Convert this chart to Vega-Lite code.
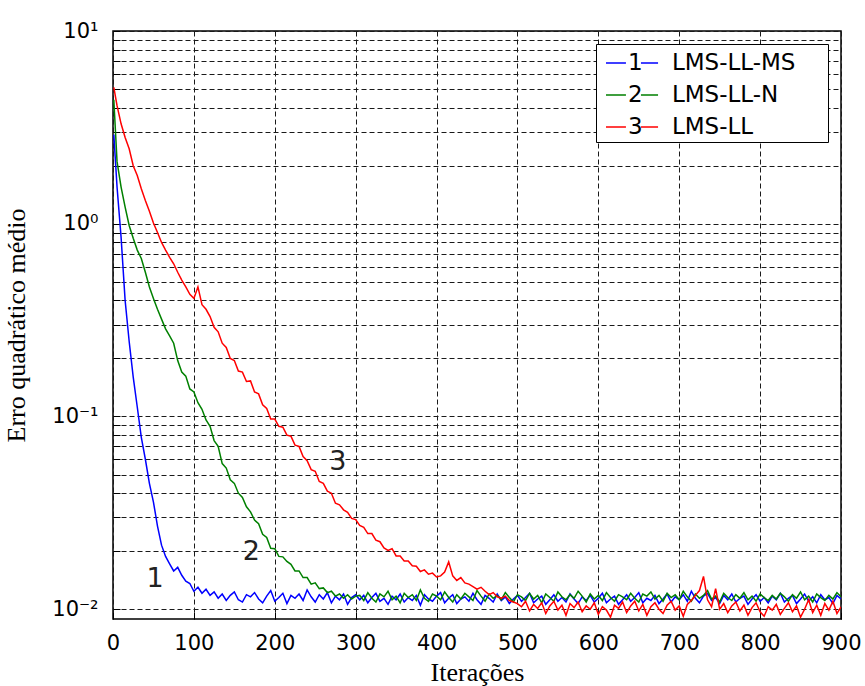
{
"$schema":"https://vega.github.io/schema/vega-lite/v6.json",
"width":728,"height":588,
"autosize":{"type":"none"},
"padding":{"left":113,"top":31,"right":24,"bottom":67},
"background":"white",
"config":{
 "view":{"stroke":"black","strokeWidth":1.5},
 "axis":{"grid":true,"gridColor":"#1a1a1a","gridDash":[5,3],"gridWidth":1,"domain":false,"tickColor":"black","tickSize":-7,"tickWidth":1,"labelFont":"DejaVu Sans","labelFontSize":21,"labelColor":"black","titleFont":"Liberation Serif","titleFontSize":26,"titleFontWeight":"normal","titleColor":"black","labelOverlap":false,"labelBound":false,"labelFlush":false}
},
"datasets":{
"blue":[{"i":1,"v":2.9},{"i":5,"v":1.55},{"i":10,"v":0.85},{"i":15,"v":0.4},{"i":20,"v":0.245},{"i":25,"v":0.16},{"i":30,"v":0.112},{"i":35,"v":0.078},{"i":40,"v":0.06},{"i":45,"v":0.045},{"i":50,"v":0.036},{"i":55,"v":0.027},{"i":60,"v":0.0215},{"i":65,"v":0.0188},{"i":70,"v":0.0172},{"i":75,"v":0.0158},{"i":80,"v":0.0165},{"i":85,"v":0.015},{"i":90,"v":0.014},{"i":95,"v":0.0136},{"i":100,"v":0.0124},{"i":105,"v":0.013},{"i":110,"v":0.0121},{"i":115,"v":0.0127},{"i":120,"v":0.0118},{"i":125,"v":0.0123},{"i":130,"v":0.0114},{"i":135,"v":0.012},{"i":140,"v":0.0111},{"i":145,"v":0.0118},{"i":150,"v":0.0123},{"i":155,"v":0.0112},{"i":160,"v":0.0109},{"i":165,"v":0.0119},{"i":170,"v":0.0116},{"i":175,"v":0.0122},{"i":180,"v":0.0113},{"i":185,"v":0.0108},{"i":190,"v":0.0117},{"i":195,"v":0.0125},{"i":200,"v":0.011},{"i":205,"v":0.0115},{"i":210,"v":0.0121},{"i":215,"v":0.0107},{"i":220,"v":0.0118},{"i":225,"v":0.0114},{"i":230,"v":0.012},{"i":235,"v":0.0111},{"i":240,"v":0.0126},{"i":245,"v":0.0116},{"i":250,"v":0.0109},{"i":255,"v":0.0119},{"i":260,"v":0.0113},{"i":265,"v":0.0122},{"i":270,"v":0.0108},{"i":275,"v":0.0117},{"i":280,"v":0.0112},{"i":285,"v":0.012},{"i":290,"v":0.0106},{"i":295,"v":0.0115},{"i":300,"v":0.0119},
{"i":305,"v":0.0112},{"i":310,"v":0.0118},{"i":315,"v":0.0108},{"i":320,"v":0.0115},{"i":325,"v":0.0121},{"i":330,"v":0.011},{"i":335,"v":0.0114},{"i":340,"v":0.0106},{"i":345,"v":0.0117},{"i":350,"v":0.0112},{"i":355,"v":0.012},{"i":360,"v":0.0109},{"i":365,"v":0.0115},{"i":370,"v":0.0111},{"i":375,"v":0.0118},{"i":380,"v":0.0105},{"i":385,"v":0.0119},{"i":390,"v":0.0113},{"i":395,"v":0.011},{"i":400,"v":0.0117},{"i":405,"v":0.0122},{"i":410,"v":0.0108},{"i":415,"v":0.0114},{"i":420,"v":0.0119},{"i":425,"v":0.0107},{"i":430,"v":0.0113},{"i":435,"v":0.0116},{"i":440,"v":0.011},{"i":445,"v":0.0121},{"i":450,"v":0.0112},{"i":455,"v":0.0106},{"i":460,"v":0.0118},{"i":465,"v":0.0114},{"i":470,"v":0.0109},{"i":475,"v":0.012},{"i":480,"v":0.0111},{"i":485,"v":0.0116},{"i":490,"v":0.0107},{"i":495,"v":0.0113},{"i":500,"v":0.0118},{"i":505,"v":0.011},{"i":510,"v":0.0115},{"i":515,"v":0.0121},{"i":520,"v":0.0108},{"i":525,"v":0.0113},{"i":530,"v":0.0117},{"i":535,"v":0.0106},{"i":540,"v":0.0112},{"i":545,"v":0.0119},{"i":550,"v":0.011},{"i":555,"v":0.0115},{"i":560,"v":0.0109},{"i":565,"v":0.012},{"i":570,"v":0.0113},{"i":575,"v":0.0107},{"i":580,"v":0.0116},{"i":585,"v":0.0111},{"i":590,"v":0.0118},{"i":595,"v":0.0109},{"i":600,"v":0.0114},{"i":605,"v":0.0121},{"i":610,"v":0.0108},{"i":615,"v":0.0113},{"i":620,"v":0.0117},{"i":625,"v":0.0106},{"i":630,"v":0.0112},{"i":635,"v":0.0119},{"i":640,"v":0.011},{"i":645,"v":0.0115},{"i":650,"v":0.0122},{"i":655,"v":0.0108},{"i":660,"v":0.0114},{"i":665,"v":0.0111},{"i":670,"v":0.0118},{"i":675,"v":0.0107},{"i":680,"v":0.0113},{"i":685,"v":0.012},{"i":690,"v":0.0109},{"i":695,"v":0.0116},{"i":700,"v":0.0112},{"i":705,"v":0.0119},{"i":710,"v":0.011},{"i":715,"v":0.0124},{"i":720,"v":0.0114},{"i":725,"v":0.0108},{"i":730,"v":0.0117},{"i":735,"v":0.0121},{"i":740,"v":0.0111},{"i":745,"v":0.0115},{"i":750,"v":0.0107},{"i":755,"v":0.0118},{"i":760,"v":0.0112},{"i":765,"v":0.012},{"i":770,"v":0.0109},{"i":775,"v":0.0114},{"i":780,"v":0.0117},{"i":785,"v":0.0106},{"i":790,"v":0.0113},{"i":795,"v":0.0119},{"i":800,"v":0.011},{"i":805,"v":0.0115},{"i":810,"v":0.0108},{"i":815,"v":0.0117},{"i":820,"v":0.0112},{"i":825,"v":0.0121},{"i":830,"v":0.0109},{"i":835,"v":0.0114},{"i":840,"v":0.0118},{"i":845,"v":0.0107},{"i":850,"v":0.0113},{"i":855,"v":0.012},{"i":860,"v":0.011},{"i":865,"v":0.0116},{"i":870,"v":0.0108},{"i":875,"v":0.0119},{"i":880,"v":0.0112},{"i":885,"v":0.0115},{"i":890,"v":0.0107},{"i":895,"v":0.0118},{"i":900,"v":0.0113}],
"green":[{"i":1,"v":4.4},{"i":5,"v":2.1},{"i":10,"v":1.55},{"i":15,"v":1.22},{"i":20,"v":0.98},{"i":25,"v":0.84},{"i":30,"v":0.73},{"i":35,"v":0.66},{"i":40,"v":0.56},{"i":45,"v":0.47},{"i":50,"v":0.41},{"i":55,"v":0.36},{"i":60,"v":0.32},{"i":65,"v":0.285},{"i":70,"v":0.262},{"i":75,"v":0.24},{"i":80,"v":0.195},{"i":85,"v":0.17},{"i":90,"v":0.162},{"i":95,"v":0.139},{"i":100,"v":0.134},{"i":105,"v":0.118},{"i":110,"v":0.109},{"i":115,"v":0.096},{"i":120,"v":0.089},{"i":125,"v":0.075},{"i":130,"v":0.07},{"i":135,"v":0.057},{"i":140,"v":0.054},{"i":145,"v":0.047},{"i":150,"v":0.045},{"i":155,"v":0.04},{"i":160,"v":0.038},{"i":165,"v":0.034},{"i":170,"v":0.032},{"i":175,"v":0.029},{"i":180,"v":0.0278},{"i":185,"v":0.0245},{"i":190,"v":0.0236},{"i":195,"v":0.0207},{"i":200,"v":0.0206},{"i":205,"v":0.0188},{"i":210,"v":0.0187},{"i":215,"v":0.0177},{"i":220,"v":0.0171},{"i":225,"v":0.0158},{"i":230,"v":0.0158},{"i":235,"v":0.0146},{"i":240,"v":0.0146},{"i":245,"v":0.0135},{"i":250,"v":0.0137},{"i":255,"v":0.0128},{"i":260,"v":0.0129},{"i":265,"v":0.0122},{"i":270,"v":0.0124},{"i":275,"v":0.0117},{"i":280,"v":0.012},{"i":285,"v":0.0114},{"i":290,"v":0.0119},{"i":295,"v":0.0113},{"i":300,"v":0.0117},
{"i":305,"v":0.0118},{"i":310,"v":0.0111},{"i":315,"v":0.0122},{"i":320,"v":0.0114},{"i":325,"v":0.0109},{"i":330,"v":0.012},{"i":335,"v":0.0116},{"i":340,"v":0.0124},{"i":345,"v":0.0112},{"i":350,"v":0.0117},{"i":355,"v":0.0108},{"i":360,"v":0.0121},{"i":365,"v":0.0115},{"i":370,"v":0.0119},{"i":375,"v":0.0111},{"i":380,"v":0.0126},{"i":385,"v":0.0114},{"i":390,"v":0.011},{"i":395,"v":0.012},{"i":400,"v":0.0117},{"i":405,"v":0.0112},{"i":410,"v":0.0123},{"i":415,"v":0.0115},{"i":420,"v":0.0109},{"i":425,"v":0.0119},{"i":430,"v":0.0113},{"i":435,"v":0.0121},{"i":440,"v":0.0116},{"i":445,"v":0.0111},{"i":450,"v":0.0125},{"i":455,"v":0.0117},{"i":460,"v":0.011},{"i":465,"v":0.012},{"i":470,"v":0.0114},{"i":475,"v":0.0118},{"i":480,"v":0.0112},{"i":485,"v":0.0122},{"i":490,"v":0.0115},{"i":495,"v":0.0109},{"i":500,"v":0.0119},{"i":505,"v":0.0116},{"i":510,"v":0.0111},{"i":515,"v":0.0121},{"i":520,"v":0.0113},{"i":525,"v":0.0118},{"i":530,"v":0.0108},{"i":535,"v":0.012},{"i":540,"v":0.0115},{"i":545,"v":0.011},{"i":550,"v":0.0123},{"i":555,"v":0.0116},{"i":560,"v":0.0112},{"i":565,"v":0.0119},{"i":570,"v":0.0114},{"i":575,"v":0.0124},{"i":580,"v":0.0117},{"i":585,"v":0.0109},{"i":590,"v":0.012},{"i":595,"v":0.0113},{"i":600,"v":0.0118},{"i":605,"v":0.0111},{"i":610,"v":0.0122},{"i":615,"v":0.0115},{"i":620,"v":0.011},{"i":625,"v":0.0119},{"i":630,"v":0.0116},{"i":635,"v":0.0112},{"i":640,"v":0.0121},{"i":645,"v":0.0114},{"i":650,"v":0.0109},{"i":655,"v":0.012},{"i":660,"v":0.0117},{"i":665,"v":0.0123},{"i":670,"v":0.0113},{"i":675,"v":0.0118},{"i":680,"v":0.011},{"i":685,"v":0.0121},{"i":690,"v":0.0115},{"i":695,"v":0.0119},{"i":700,"v":0.0112},{"i":705,"v":0.0124},{"i":710,"v":0.0116},{"i":715,"v":0.011},{"i":720,"v":0.012},{"i":725,"v":0.0114},{"i":730,"v":0.0118},{"i":735,"v":0.0125},{"i":740,"v":0.0113},{"i":745,"v":0.0117},{"i":750,"v":0.0109},{"i":755,"v":0.0121},{"i":760,"v":0.0115},{"i":765,"v":0.0111},{"i":770,"v":0.0119},{"i":775,"v":0.0114},{"i":780,"v":0.0122},{"i":785,"v":0.0112},{"i":790,"v":0.0117},{"i":795,"v":0.011},{"i":800,"v":0.012},{"i":805,"v":0.0115},{"i":810,"v":0.0111},{"i":815,"v":0.0118},{"i":820,"v":0.0113},{"i":825,"v":0.0121},{"i":830,"v":0.0116},{"i":835,"v":0.011},{"i":840,"v":0.0119},{"i":845,"v":0.0114},{"i":850,"v":0.0123},{"i":855,"v":0.0112},{"i":860,"v":0.0117},{"i":865,"v":0.0109},{"i":870,"v":0.012},{"i":875,"v":0.0115},{"i":880,"v":0.0111},{"i":885,"v":0.0118},{"i":890,"v":0.0113},{"i":895,"v":0.0122},{"i":900,"v":0.0116}],
"red":[{"i":1,"v":5.1},{"i":5,"v":4.1},{"i":10,"v":3.3},{"i":15,"v":2.8},{"i":20,"v":2.45},{"i":25,"v":2.0},{"i":30,"v":1.78},{"i":35,"v":1.52},{"i":40,"v":1.32},{"i":45,"v":1.16},{"i":50,"v":1.01},{"i":55,"v":0.9},{"i":60,"v":0.8},{"i":65,"v":0.73},{"i":70,"v":0.67},{"i":75,"v":0.62},{"i":80,"v":0.56},{"i":85,"v":0.51},{"i":90,"v":0.47},{"i":95,"v":0.43},{"i":100,"v":0.41},{"i":105,"v":0.47},{"i":110,"v":0.38},{"i":115,"v":0.36},{"i":120,"v":0.33},{"i":125,"v":0.29},{"i":130,"v":0.275},{"i":135,"v":0.24},{"i":140,"v":0.228},{"i":145,"v":0.2},{"i":150,"v":0.195},{"i":155,"v":0.172},{"i":160,"v":0.17},{"i":165,"v":0.152},{"i":170,"v":0.153},{"i":175,"v":0.134},{"i":180,"v":0.131},{"i":185,"v":0.115},{"i":190,"v":0.11},{"i":195,"v":0.097},{"i":200,"v":0.097},{"i":205,"v":0.089},{"i":210,"v":0.088},{"i":215,"v":0.08},{"i":220,"v":0.079},{"i":225,"v":0.071},{"i":230,"v":0.07},{"i":235,"v":0.062},{"i":240,"v":0.059},{"i":245,"v":0.053},{"i":250,"v":0.052},{"i":255,"v":0.046},{"i":260,"v":0.045},{"i":265,"v":0.041},{"i":270,"v":0.04},{"i":275,"v":0.0355},{"i":280,"v":0.0348},{"i":285,"v":0.0328},{"i":290,"v":0.0318},{"i":295,"v":0.0296},{"i":300,"v":0.0292},{"i":305,"v":0.0272},{"i":310,"v":0.0266},{"i":315,"v":0.0247},{"i":320,"v":0.0247},{"i":325,"v":0.0228},{"i":330,"v":0.0224},{"i":335,"v":0.0208},{"i":340,"v":0.0202},{"i":345,"v":0.0206},{"i":350,"v":0.0189},{"i":355,"v":0.0189},{"i":360,"v":0.0178},{"i":365,"v":0.0178},{"i":370,"v":0.0168},{"i":375,"v":0.0167},{"i":380,"v":0.0157},{"i":385,"v":0.016},{"i":390,"v":0.0152},{"i":395,"v":0.0154},{"i":400,"v":0.0147},{"i":405,"v":0.0149},{"i":410,"v":0.0156},{"i":415,"v":0.0176},{"i":420,"v":0.0149},{"i":425,"v":0.0141},{"i":430,"v":0.0146},{"i":435,"v":0.0137},{"i":440,"v":0.0135},{"i":445,"v":0.0131},{"i":450,"v":0.0127},{"i":455,"v":0.013},{"i":460,"v":0.0124},{"i":465,"v":0.0119},{"i":470,"v":0.0122},{"i":475,"v":0.0116},{"i":480,"v":0.0114},{"i":485,"v":0.0117},{"i":490,"v":0.0111},{"i":495,"v":0.0109},{"i":500,"v":0.0107},
{"i":505,"v":0.0103},{"i":510,"v":0.011},{"i":515,"v":0.0098},{"i":520,"v":0.0106},{"i":525,"v":0.0101},{"i":530,"v":0.0108},{"i":535,"v":0.0095},{"i":540,"v":0.0104},{"i":545,"v":0.011},{"i":550,"v":0.0099},{"i":555,"v":0.0105},{"i":560,"v":0.0093},{"i":565,"v":0.0107},{"i":570,"v":0.0102},{"i":575,"v":0.0109},{"i":580,"v":0.0097},{"i":585,"v":0.0104},{"i":590,"v":0.01},{"i":595,"v":0.0108},{"i":600,"v":0.0094},{"i":605,"v":0.0103},{"i":610,"v":0.0099},{"i":615,"v":0.0091},{"i":620,"v":0.0105},{"i":625,"v":0.0101},{"i":630,"v":0.0109},{"i":635,"v":0.0096},{"i":640,"v":0.0104},{"i":645,"v":0.011},{"i":650,"v":0.0098},{"i":655,"v":0.0106},{"i":660,"v":0.0093},{"i":665,"v":0.0103},{"i":670,"v":0.0108},{"i":675,"v":0.01},{"i":680,"v":0.0095},{"i":685,"v":0.0105},{"i":690,"v":0.011},{"i":695,"v":0.0099},{"i":700,"v":0.0104},{"i":705,"v":0.0092},{"i":710,"v":0.0106},{"i":715,"v":0.0111},{"i":720,"v":0.0118},{"i":725,"v":0.0125},{"i":730,"v":0.0148},{"i":735,"v":0.0112},{"i":740,"v":0.0103},{"i":745,"v":0.0128},{"i":750,"v":0.01},{"i":755,"v":0.0107},{"i":760,"v":0.0096},{"i":765,"v":0.0104},{"i":770,"v":0.0109},{"i":775,"v":0.0098},{"i":780,"v":0.0105},{"i":785,"v":0.0093},{"i":790,"v":0.0102},{"i":795,"v":0.0108},{"i":800,"v":0.0097},{"i":805,"v":0.0092},{"i":810,"v":0.0103},{"i":815,"v":0.0099},{"i":820,"v":0.0106},{"i":825,"v":0.0094},{"i":830,"v":0.0101},{"i":835,"v":0.0108},{"i":840,"v":0.0097},{"i":845,"v":0.0104},{"i":850,"v":0.0091},{"i":855,"v":0.01},{"i":860,"v":0.0112},{"i":865,"v":0.0096},{"i":870,"v":0.0105},{"i":875,"v":0.0093},{"i":880,"v":0.0107},{"i":885,"v":0.0099},{"i":890,"v":0.011},{"i":895,"v":0.0095},{"i":900,"v":0.0103}],
"notes":[{"i":52,"v":0.0143,"t":"1"},{"i":171,"v":0.0197,"t":"2"},{"i":278,"v":0.0578,"t":"3"}]
},
"encoding":{
 "x":{"field":"i","type":"quantitative","scale":{"domain":[0,900],"nice":false,"zero":false},
  "axis":{"values":[0,100,200,300,400,500,600,700,800,900],"title":"Iterações","labelPadding":20,"titlePadding":6}},
 "y":{"field":"v","type":"quantitative","scale":{"type":"log","domain":[0.0089,10],"nice":false},
  "axis":{"values":[0.01,0.02,0.03,0.04,0.05,0.06,0.07,0.08,0.09,0.1,0.2,0.3,0.4,0.5,0.6,0.7,0.8,0.9,1,2,3,4,5,6,7,8,9,10],
   "labelExpr":"datum.value==10?'10¹':datum.value==1?'10⁰':datum.value==0.1?'10⁻¹':datum.value==0.01?'10⁻²':''",
   "title":"Erro quadrático médio","labelPadding":22,"titlePadding":22}}
},
"layer":[
 {"data":{"name":"blue"},"mark":{"type":"line","strokeWidth":1.5,"clip":true},
  "encoding":{"color":{"datum":"LMS-LL-MS","type":"nominal",
   "scale":{"domain":["LMS-LL-MS","LMS-LL-N","LMS-LL"],"range":["#0000ff","#008000","#ff0000"]},
   "legend":{"title":null,"orient":"top-right","offset":13,"padding":3,"rowPadding":4,"strokeColor":"black","fillColor":"white",
    "symbolType":"M-0.6,0H0.73M1.73,0H2.87","symbolSize":900,"symbolStrokeWidth":1.5,
    "labelFont":"DejaVu Sans","labelFontSize":23,"labelColor":"black","labelOffset":-3,"labelLimit":400,
    "labelExpr":"(datum.value=='LMS-LL-MS'?'1':datum.value=='LMS-LL-N'?'2':'3')+'\u00a0\u00a0\u00a0\u00a0'+datum.value+'\u00a0\u00a0\u00a0\u00a0\u200b'"}}}},
 {"data":{"name":"green"},"mark":{"type":"line","strokeWidth":1.5,"clip":true},
  "encoding":{"color":{"datum":"LMS-LL-N","type":"nominal"}}},
 {"data":{"name":"red"},"mark":{"type":"line","strokeWidth":1.5,"clip":true},
  "encoding":{"color":{"datum":"LMS-LL","type":"nominal"}}},
 {"data":{"name":"notes"},"mark":{"type":"text","font":"DejaVu Sans","fontSize":27,"color":"#222","align":"center","baseline":"middle"},
  "encoding":{"text":{"field":"t"}}}
]
}
